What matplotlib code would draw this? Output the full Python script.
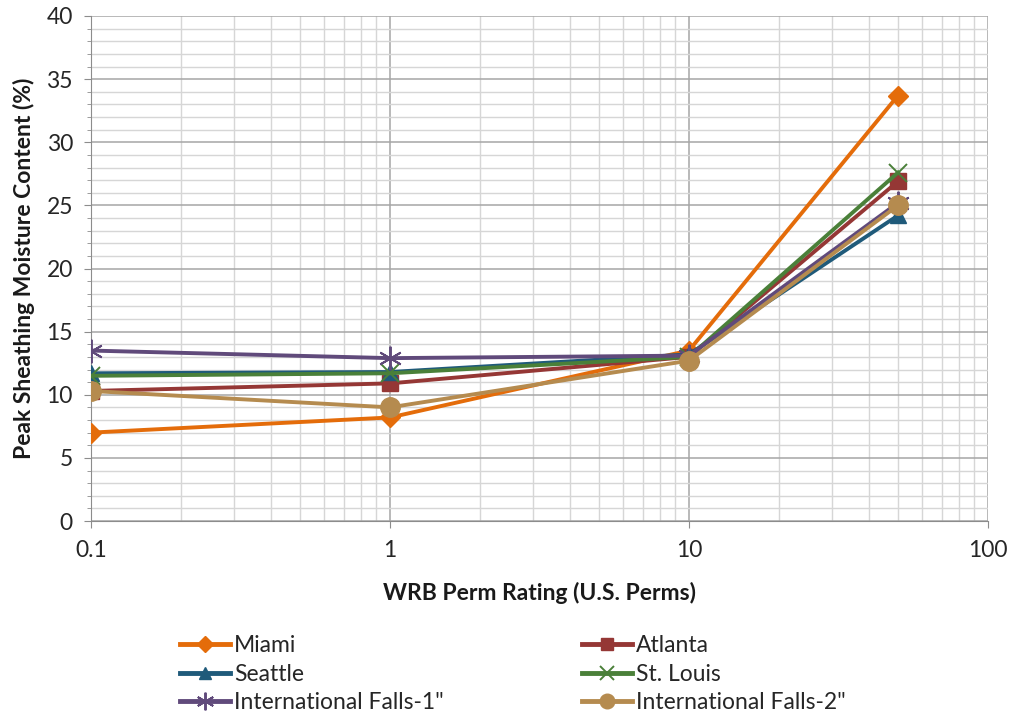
import matplotlib
matplotlib.use("Agg")
import matplotlib.pyplot as plt
from matplotlib.ticker import LogLocator, MultipleLocator, FixedLocator, FixedFormatter, NullFormatter

plt.rcParams['font.family'] = ['Lato', 'DejaVu Sans']

perm = [0.1, 1, 10, 50]
series_names = ['Miami', 'Atlanta', 'Seattle', 'St. Louis', 'International Falls-1"', 'International Falls-2"']
miami = [7.0, 8.2, 13.5, 33.7]
atlanta = [10.3, 10.9, 13.0, 26.9]
seattle = [11.7, 11.8, 13.2, 24.2]
st_louis = [11.5, 11.7, 13.0, 27.6]
intl_falls_1 = [13.5, 12.9, 13.1, 25.2]
intl_falls_2 = [10.3, 9.0, 12.7, 25.0]
x_tick_labels = ['0.1', '1', '10', '100']

values = [miami, atlanta, seattle, st_louis, intl_falls_1, intl_falls_2]
colors = ['#E46C0A', '#953735', '#1F5A7A', '#4A8039', '#604A7B', '#B58B4F']
markers = ['D', 's', '^', 'x', '*', 'o']
msizes = [10.5, 12, 12, 13, 17, 14]

fig = plt.figure(figsize=(10.12, 7.12), dpi=100)
ax = fig.add_axes([91/1012, 1-521/712, (988-91)/1012, (521-16)/712])

lines = []
for i in range(6):
    m = markers[i]
    kw = dict(color=colors[i], lw=2.8, marker=m, markersize=msizes[i], label=series_names[i], zorder=3)
    if m == 'x':
        kw.update(markeredgewidth=1.4)
    elif m == '*':
        kw.update(marker=(6, 2, 0), markeredgewidth=1.4)
    else:
        kw.update(markeredgecolor=colors[i], markerfacecolor=colors[i])
    ln, = ax.plot(perm, values[i], **kw)
    lines.append(ln)

ax.set_xscale('log')
ax.set_xlim(0.1, 100)
ax.set_ylim(0, 40)
ax.xaxis.set_major_locator(FixedLocator([0.1, 1, 10, 100]))
ax.xaxis.set_major_formatter(FixedFormatter(x_tick_labels))
ax.xaxis.set_minor_locator(LogLocator(base=10, subs=range(2, 10)))
ax.xaxis.set_minor_formatter(NullFormatter())
ax.yaxis.set_major_locator(MultipleLocator(5))
ax.yaxis.set_minor_locator(MultipleLocator(1))

ax.grid(which='major', color='#a6a6a6', lw=1.1, zorder=0)
ax.grid(which='minor', color='#d6d6d6', lw=1.0, zorder=0)
ax.set_axisbelow(True)
for s in ['top', 'right']:
    ax.spines[s].set_visible(False)
for s in ['left', 'bottom']:
    ax.spines[s].set_color('#8c8c8c')
ax.tick_params(which='major', direction='out', length=5, color='#8c8c8c', labelsize=16.5, labelcolor='#262626')
ax.tick_params(axis='x', which='major', pad=9)
ax.tick_params(axis='y', which='major', pad=8)
ax.tick_params(axis='y', which='minor', direction='out', length=3, color='#8c8c8c')
ax.tick_params(axis='x', which='minor', length=0)

ax.set_xlabel('WRB Perm Rating (U.S. Perms)', fontsize=16.5, fontweight='bold', labelpad=15, color='#1a1a1a')
ax.set_ylabel('Peak Sheathing Moisture Content (%)', fontsize=16.5, fontweight='bold', labelpad=8, color='#1a1a1a')

common = dict(loc='upper left', frameon=False, fontsize=16.5, handlelength=2.2, handletextpad=0.15,
              labelspacing=0.33, borderaxespad=0, borderpad=0)
leg1 = fig.legend(handles=[lines[0], lines[2], lines[4]], bbox_to_anchor=(180/1012, 1-635/712), **common)
leg2 = fig.legend(handles=[lines[1], lines[3], lines[5]], bbox_to_anchor=(582/1012, 1-635/712), **common)
for leg in (leg1, leg2):
    for t in leg.get_texts():
        t.set_color('#262626')
    for h in leg.legend_handles:
        h.set_markersize(h.get_markersize() * 0.75)
        h.set_linewidth(3.5)

fig.savefig('out.png', dpi=100)
